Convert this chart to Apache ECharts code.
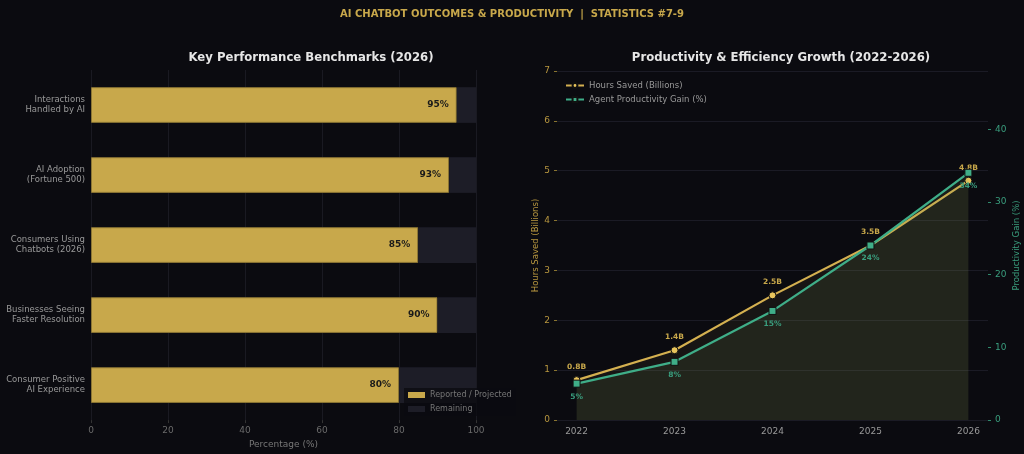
<!DOCTYPE html>
<html>
<head>
<meta charset="utf-8">
<script src="https://cdn.jsdelivr.net/npm/echarts@6/dist/echarts.min.js"></script>
<style>
  html, body { margin: 0; padding: 0; background: #0b0b10; }
  #main { width: 1024px; height: 454px; }
</style>
</head>
<body>
<div id="main"></div>
<script>
// left panel: benchmarks (2026)
var benchLabels = [
  "Interactions\nHandled by AI",
  "AI Adoption\n(Fortune 500)",
  "Consumers Using\nChatbots (2026)",
  "Businesses Seeing\nFaster Resolution",
  "Consumer Positive\nAI Experience"
];
var benchValues = [95, 93, 85, 90, 80];

// right panel: growth 2022-2026
var years = [2022, 2023, 2024, 2025, 2026];
var hoursSaved = [0.8, 1.4, 2.5, 3.5, 4.8];
var productivityGain = [5, 8, 15, 24, 34];

var gainTicks = [0, 10, 20, 30, 40];

var GOLD = "#c8a84b";
var GOLD_LINE = "#d4b050";
var GREEN = "#3fae88";
var FONT = "DejaVu Sans";

var remaining = benchValues.map(function (v) { return 100 - v; });

var chart = echarts.init(document.getElementById("main"), null, { renderer: "canvas" });

chart.setOption({
  backgroundColor: "#0b0b10",
  animation: false,
  textStyle: { fontFamily: FONT },
  title: [
    {
      text: "AI CHATBOT OUTCOMES & PRODUCTIVITY  |  STATISTICS #7-9",
      left: "center",
      top: 4,
      textStyle: { color: GOLD, fontSize: 10, fontWeight: "bold", fontFamily: FONT }
    },
    {
      text: "Key Performance Benchmarks (2026)",
      left: 306,
      textAlign: "center",
      top: 47,
      textStyle: { color: "#e6e6e6", fontSize: 11.7, fontWeight: "bold", fontFamily: FONT }
    },
    {
      text: "Productivity & Efficiency Growth (2022-2026)",
      left: 776,
      textAlign: "center",
      top: 47,
      textStyle: { color: "#e6e6e6", fontSize: 11.7, fontWeight: "bold", fontFamily: FONT }
    }
  ],
  legend: [
    {
      data: [
        { name: "Reported / Projected", icon: "rect", itemStyle: { borderWidth: 0 } },
        { name: "Remaining", icon: "rect", itemStyle: { borderWidth: 0 } }
      ],
      orient: "vertical",
      left: 404,
      top: 388,
      padding: [3, 4, 3, 4],
      itemWidth: 17,
      itemHeight: 6,
      itemGap: 6,
      backgroundColor: "rgba(11,11,16,0.75)",
      textStyle: { color: "#777", fontSize: 8, fontFamily: FONT }
    },
    {
      data: ["Hours Saved (Billions)", "Agent Productivity Gain (%)"],
      orient: "vertical",
      left: 560,
      top: 76,
      itemWidth: 18,
      itemHeight: 6,
      itemGap: 5,
      textStyle: { color: "#999", fontSize: 8.5, fontFamily: FONT }
    }
  ],
  grid: [
    { left: 91, right: 548, top: 70, bottom: 33 },
    { left: 557, right: 36, top: 71, bottom: 34 }
  ],
  xAxis: [
    {
      gridIndex: 0,
      type: "value",
      min: 0,
      max: 100,
      interval: 20,
      name: "Percentage (%)",
      nameLocation: "middle",
      nameGap: 17,
      nameTextStyle: { color: "#777", fontSize: 9 },
      axisLine: { show: false },
      axisTick: { show: true, length: 3, lineStyle: { color: "#333" } },
      axisLabel: { color: "#6a6a6a", fontSize: 9, margin: 6 },
      splitLine: { show: true, lineStyle: { color: "#1a1a22", width: 1 } }
    },
    {
      gridIndex: 1,
      type: "value",
      min: 2021.8,
      max: 2026.2,
      axisLine: { show: false },
      axisTick: { show: false, customValues: years },
      axisLabel: {
        color: "#999",
        fontSize: 9,
        margin: 7,
        customValues: years,
        formatter: function (v) { return String(v); }
      },
      splitLine: { show: false }
    }
  ],
  yAxis: [
    {
      gridIndex: 0,
      type: "category",
      inverse: true,
      data: benchLabels,
      axisLine: { show: false },
      axisTick: { show: false },
      axisLabel: { color: "#999", fontSize: 8.5, lineHeight: 10, margin: 6, align: "right" },
      splitLine: { show: false }
    },
    {
      gridIndex: 1,
      type: "value",
      min: 0,
      max: 7,
      interval: 1,
      name: "Hours Saved (Billions)",
      nameLocation: "middle",
      nameGap: 16,
      nameRotate: 90,
      nameTextStyle: { color: "#b8973f", fontSize: 8.5 },
      axisLine: { show: false },
      axisTick: { show: true, length: 3, lineStyle: { color: "#8a7530" } },
      axisLabel: { color: "#b8973f", fontSize: 9, margin: 7 },
      splitLine: { show: true, lineStyle: { color: "#1b1b25", width: 1 } }
    },
    {
      gridIndex: 1,
      type: "value",
      position: "right",
      min: 0,
      max: 48,
      name: "Productivity Gain (%)",
      nameLocation: "middle",
      nameGap: 24,
      nameRotate: 90,
      nameTextStyle: { color: "#3a9e7e", fontSize: 8.5 },
      axisLine: { show: false },
      axisTick: { show: true, length: 3, customValues: gainTicks, lineStyle: { color: "#2f8a6c" } },
      axisLabel: { color: "#3a9e7e", fontSize: 9, margin: 7, customValues: gainTicks },
      splitLine: { show: false }
    }
  ],
  series: [
    {
      name: "Reported / Projected",
      type: "bar",
      xAxisIndex: 0,
      yAxisIndex: 0,
      stack: "bench",
      barWidth: "51%",
      data: benchValues,
      itemStyle: { color: GOLD, borderColor: "#8b7534", borderWidth: 1 },
      label: {
        show: true,
        position: "insideRight",
        distance: 8,
        formatter: "{c}%",
        color: "#1a1a1a",
        fontSize: 9,
        fontWeight: "bold"
      }
    },
    {
      name: "Remaining",
      type: "bar",
      xAxisIndex: 0,
      yAxisIndex: 0,
      stack: "bench",
      barWidth: "51%",
      data: remaining,
      itemStyle: { color: "#1d1d27" }
    },
    {
      name: "Hours Saved (Billions)",
      type: "line",
      xAxisIndex: 1,
      yAxisIndex: 1,
      data: years.map(function (y, i) { return [y, hoursSaved[i]]; }),
      symbol: "circle",
      symbolSize: 7,
      z: 3,
      lineStyle: { color: GOLD_LINE, width: 2.2 },
      itemStyle: { color: "#e8c45c", borderColor: "#111", borderWidth: 1 },
      areaStyle: { color: "rgba(200,168,75,0.09)", origin: "start" },
      label: {
        show: true,
        position: "top",
        distance: 5,
        formatter: function (p) { return p.value[1] + "B"; },
        color: "#c8a84b",
        fontSize: 7.5,
        fontWeight: "bold"
      }
    },
    {
      name: "Agent Productivity Gain (%)",
      type: "line",
      xAxisIndex: 1,
      yAxisIndex: 2,
      data: years.map(function (y, i) { return [y, productivityGain[i]]; }),
      symbol: "rect",
      symbolSize: 7,
      z: 4,
      lineStyle: { color: GREEN, width: 2.2 },
      itemStyle: { color: GREEN, borderColor: "#111", borderWidth: 1 },
      areaStyle: { color: "rgba(110,150,90,0.18)", origin: "start" },
      label: {
        show: true,
        position: "bottom",
        distance: 5,
        formatter: function (p) { return p.value[1] + "%"; },
        color: "#3a9e7e",
        fontSize: 7.5,
        fontWeight: "bold"
      }
    }
  ]
});
</script>
</body>
</html>
